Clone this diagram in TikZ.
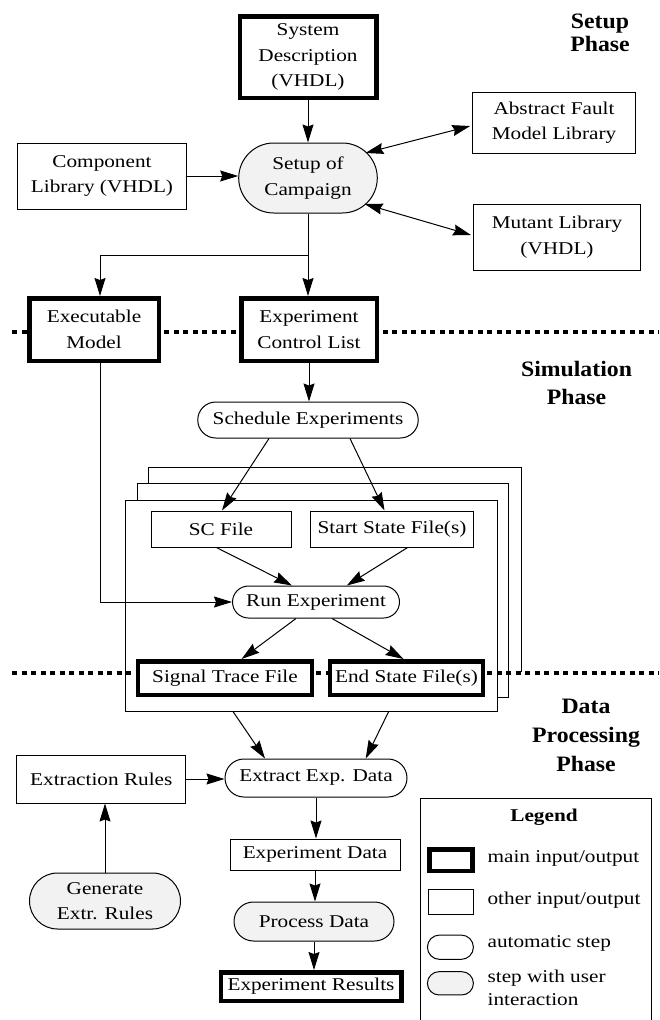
\documentclass[tikz,border=0pt]{standalone}
\usepackage{fontspec}
\setmainfont{Liberation Serif}[FakeStretch=1.18]
\newfontfamily\titlefont{Liberation Serif}[FakeStretch=1.08]
\usetikzlibrary{arrows.meta,calc,shapes.misc}
\begin{document}
\begin{tikzpicture}[x=1pt,y=-1pt,
  every node/.style={font=\fontsize{18}{25.5}\selectfont, align=center, inner sep=0pt},
  io/.style={draw, line width=1pt, fill=white},
  mainio/.style={draw, line width=4.5pt, fill=white},
  autostep/.style={draw, line width=1pt, fill=white, rounded rectangle},
  userstep/.style={draw, line width=1pt, fill=black!5, rounded rectangle},
  frame/.style={draw, line width=1pt},
  phasetitle/.style={font=\titlefont\bfseries\fontsize{22}{#1}\selectfont},
  phaseline/.style={line width=4.5pt, dash pattern=on 5pt off 4.5pt},
  conn/.style={line width=1pt, -{Stealth[length=18pt,width=11pt,inset=2pt]}},
  dconn/.style={line width=1pt, {Stealth[length=18pt,width=11pt,inset=2pt]}-{Stealth[length=18pt,width=11pt,inset=2pt]}},
  legtext/.style={anchor=west, align=left}
]
\useasboundingbox (0,0) rectangle (659,1020);

% stacked experiment frames
\draw[line width=1pt] (148,483) -- (148,467) -- (521,467) -- (521,672);
\draw[line width=1pt] (137,500) -- (137,483) -- (508,483) -- (508,697) -- (497,697);
\node[frame, minimum width=372, minimum height=211] (front) at (311,605.5) {};

% phase separators
\draw[phaseline] (12,332) -- (659,332);
\draw[phaseline] (12,673) -- (659,673);

% phase titles
\node[phasetitle=23] (tsetup) at (600,33) {Setup\\Phase};
\node[phasetitle=28] (tsim) at (576.5,382.5) {Simulation\\Phase};
\node[phasetitle=29] (tdata) at (586,735) {Data\\Processing\\Phase};

% setup phase
\node[mainio, minimum width=136.5, minimum height=81.5] (sys) at (308,57) {System\\Description\\(VHDL)};
\node[userstep, minimum width=138.6, minimum height=70] (setup) at (308,178) {Setup of\\Campaign};
\node[io, minimum width=168.5, minimum height=66] (comp) at (102,176) {Component\\Library (VHDL)};
\node[io, minimum width=162.6, minimum height=61] (abs) at (554,122.5) {Abstract Fault\\Model Library};
\node[io, minimum width=167, minimum height=66] (mut) at (557,237) {Mutant Library\\(VHDL)};
\node[mainio, minimum width=129.5, minimum height=62.5] (exec) at (94,329.5) {Executable\\Model};
\node[mainio, minimum width=135.5, minimum height=62.5] (ecl) at (309,329.5) {Experiment\\Control List};

% simulation phase
\node[autostep, minimum width=220.5, minimum height=36] (sched) at (308,420) {Schedule Experiments};
\node[io, minimum width=140, minimum height=36] (sc) at (221,529) {SC File};
\node[io, minimum width=162.5, minimum height=36] (start) at (392,529) {Start State File(s)};
\node[autostep, minimum width=167, minimum height=32] (run) at (316,602) {Run Experiment};
\node[mainio, minimum width=174, minimum height=33.5] (sig) at (225,678) {Signal Trace File};
\node[mainio, minimum width=153, minimum height=33.5] (end) at (406.5,678) {End State File(s)};

% data processing phase
\node[autostep, minimum width=182, minimum height=38] (extract) at (316,778) {Extract Exp. Data};
\node[io, minimum width=169, minimum height=48] (extr) at (101.3,779) {Extraction Rules};
\node[userstep, minimum width=151, minimum height=56] (gen) at (105,901) {Generate\\Extr. Rules};
\node[io, minimum width=170, minimum height=31] (expdata) at (315,854.5) {Experiment Data};
\node[userstep, minimum width=160, minimum height=39] (proc) at (314,921.5) {Process Data};
\node[mainio, minimum width=180.5, minimum height=28.5] (res) at (311,986.5) {Experiment Results};

% legend
\draw[line width=1pt] (420.2,1020) -- (420.2,798) -- (651.7,798) -- (651.7,1020);
\node[font=\bfseries\fontsize{18}{25.5}\selectfont] (legtitle) at (544,817) {Legend};
\node[mainio, minimum width=43, minimum height=21.5] (lmain) at (451,860.3) {};
\node[io, minimum width=45, minimum height=24.7] (lother) at (451,901.7) {};
\node[autostep, minimum width=46, minimum height=24.3] (lauto) at (450.4,947.2) {};
\node[userstep, minimum width=46, minimum height=23.3] (luser) at (450.4,983.3) {};
\node[legtext] (tmain) at (487.4,858) {main input/output};
\node[legtext] (tother) at (487.4,900) {other input/output};
\node[legtext] (tauto) at (487.4,943) {automatic step};
\node[legtext, font=\fontsize{18}{23}\selectfont] (tuser) at (487.4,987.4) {step with user\\interaction};

% connectors
\draw[conn] (sys.south) -- (setup.north);
\draw[conn] (comp.east) -- (comp.east -| setup.west);
\draw[dconn] ($(setup.center)+(57.5,-25)$) -- ($(abs.west)+(-2,3.5)$);
\draw[dconn] ($(setup.center)+(56.7,26)$) -- ($(mut.west)+(-2,-2)$);
\draw[conn] (setup.south) -- (setup.south |- ecl.north);
\draw[conn] (setup.south) -- ++(0,42) -| ($(exec.north)+(6,0)$);
\draw[conn] (ecl.south) -- (ecl.south |- sched.north);
\draw[conn] ($(sched.south)+(-39,0)$) -- ($(sc.north)+(1,0)$);
\draw[conn] ($(sched.south)+(42,0)$) -- ($(start.north)+(-7.5,0)$);
\draw[conn] ($(sc.south)+(-4.6,0)$) -- ($(run.north)+(-24,0)$);
\draw[conn] ($(start.south)+(15.6,0)$) -- ($(run.north)+(30.8,0)$);
\draw[conn] ($(exec.south)+(6,0)$) |- (run.west);
\draw[conn] ($(run.south)+(-20,0)$) -- ($(sig.north)+(16.6,0)$);
\draw[conn] ($(run.south)+(16,0)$) -- ($(end.north)+(-3,0)$);
\draw[conn] ($(front.south)+(-78,0)$) -- ($(extract.north)+(-51,0)$);
\draw[conn] ($(front.south)+(77.7,0)$) -- ($(extract.north)+(49.7,0)$);
\draw[conn] (extr.east) -- (extr.east -| extract.west);
\draw[conn] (gen.north) -- (gen.north |- extr.south);
\draw[conn] (extract.south) -- (extract.south |- expdata.north);
\draw[conn] (expdata.south) -- (expdata.south |- proc.north);
\draw[conn] (proc.south) -- (proc.south |- res.north);
\end{tikzpicture}
\end{document}
